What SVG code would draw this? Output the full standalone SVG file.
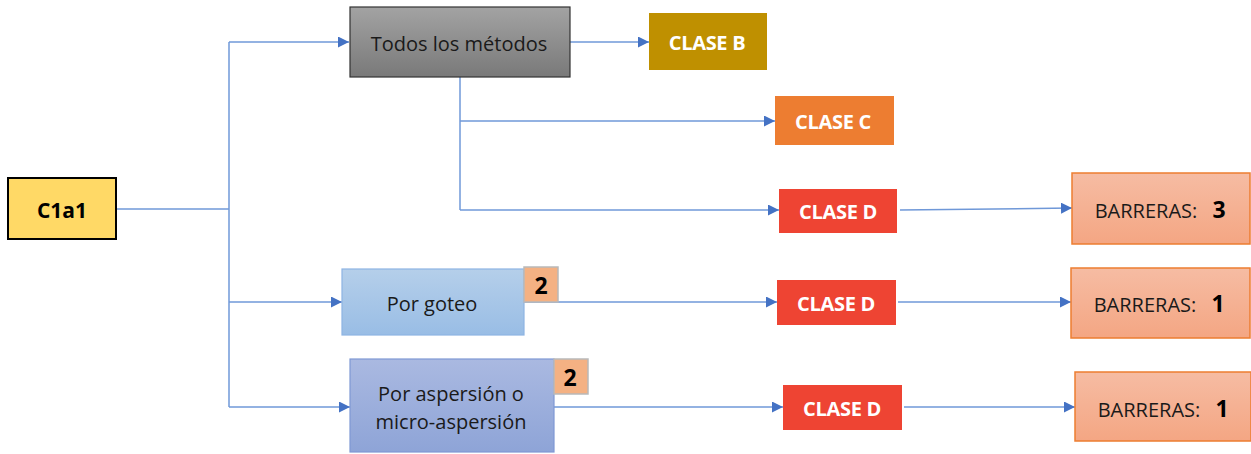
<svg xmlns="http://www.w3.org/2000/svg" width="1251" height="454" viewBox="0 0 1251 454">
<style>
.t{font-family:"Open Sans","Liberation Sans",sans-serif;font-size:20px;fill:#1a1a1a;text-anchor:middle;dominant-baseline:central}
.w{font-family:"Open Sans","Liberation Sans",sans-serif;font-size:20px;font-weight:bold;fill:#fff;text-anchor:middle;dominant-baseline:central;letter-spacing:-0.3px}
.b{font-family:"Open Sans","Liberation Sans",sans-serif;font-size:23px;font-weight:bold;fill:#000;text-anchor:middle;dominant-baseline:central}
.cl{fill:none;stroke:#6f98d8;stroke-width:1.5}
.bar{fill:url(#gB);stroke:#ED7D31;stroke-width:1.5}
.badge{fill:#F4B183;stroke:#b9b9b9;stroke-width:1.5}
</style>
<defs>
<marker id="ar" viewBox="0 0 10 10" refX="10" refY="5" markerWidth="11" markerHeight="11" markerUnits="userSpaceOnUse" orient="auto">
<path d="M0,0 L10,5 L0,10 z" fill="#4472C4"/>
</marker>
<linearGradient id="gG" x1="0" y1="0" x2="0" y2="1"><stop offset="0" stop-color="#a3a3a3"/><stop offset="1" stop-color="#797979"/></linearGradient>
<linearGradient id="gP" x1="0" y1="0" x2="0" y2="1"><stop offset="0" stop-color="#b5cfea"/><stop offset="1" stop-color="#99bde5"/></linearGradient>
<linearGradient id="gA" x1="0" y1="0" x2="0" y2="1"><stop offset="0" stop-color="#aab9e1"/><stop offset="1" stop-color="#8ea4d7"/></linearGradient>
<linearGradient id="gB" x1="0" y1="0" x2="0" y2="1"><stop offset="0" stop-color="#f6bca3"/><stop offset="1" stop-color="#f4a683"/></linearGradient>
</defs>
<g id="connectors">
<path class="cl" d="M116,209 H229"/>
<path class="cl" d="M229,42 V407"/>
<path class="cl" d="M229,42 H349" marker-end="url(#ar)"/>
<path class="cl" d="M229,302 H342" marker-end="url(#ar)"/>
<path class="cl" d="M229,407 H350" marker-end="url(#ar)"/>
<path class="cl" d="M570,42 H649" marker-end="url(#ar)"/>
<path class="cl" d="M460,77 V210"/>
<path class="cl" d="M460,121 H775" marker-end="url(#ar)"/>
<path class="cl" d="M460,210 H779" marker-end="url(#ar)"/>
<path class="cl" d="M900,210 L1072,208" marker-end="url(#ar)"/>
<path class="cl" d="M524,302 H777" marker-end="url(#ar)"/>
<path class="cl" d="M898,302 H1071" marker-end="url(#ar)"/>
<path class="cl" d="M554,407 H783" marker-end="url(#ar)"/>
<path class="cl" d="M904,407 H1075" marker-end="url(#ar)"/>
</g>
<g id="c1a1">
<rect x="8" y="178" width="108" height="61" fill="#FFD966" stroke="#000" stroke-width="2"/>
<text class="b" x="62" y="210" style="font-size:21px">C1a1</text>
</g>
<g id="todos">
<rect x="350" y="7" width="220" height="70" fill="url(#gG)" stroke="#333" stroke-width="1.2"/>
<text class="t" x="459" y="43">Todos los métodos</text>
</g>
<g id="claseB">
<rect x="649" y="13" width="118" height="57" fill="#BF9000"/>
<text class="w" x="707" y="42">CLASE B</text>
</g>
<g id="claseC">
<rect x="775" y="96" width="119" height="49" fill="#ED7D31"/>
<text class="w" x="833" y="121">CLASE C</text>
</g>
<g id="claseD1">
<rect x="779" y="189" width="118" height="44" fill="#EE4433"/>
<text class="w" x="838" y="211">CLASE D</text>
</g>
<g id="barreras1">
<rect class="bar" x="1072" y="173" width="178" height="71"/>
<text class="t" x="1146" y="210">BARRERAS:</text>
<text class="b" x="1219" y="209">3</text>
</g>
<g id="goteo">
<rect x="342" y="269" width="182" height="66" fill="url(#gP)" stroke="#8eb4e3" stroke-width="1.2"/>
<text class="t" x="432" y="303">Por goteo</text>
</g>
<g id="badge1">
<rect class="badge" x="524" y="267" width="34" height="35"/>
<text class="b" x="541" y="285">2</text>
</g>
<g id="claseD2">
<rect x="777" y="280" width="119" height="45" fill="#EE4433"/>
<text class="w" x="836" y="303">CLASE D</text>
</g>
<g id="barreras2">
<rect class="bar" x="1071" y="268" width="179" height="70"/>
<text class="t" x="1145" y="304">BARRERAS:</text>
<text class="b" x="1218" y="303">1</text>
</g>
<g id="aspersion">
<rect x="350" y="359" width="204" height="93" fill="url(#gA)" stroke="#7f98d4" stroke-width="1.2"/>
<text class="t" x="451" y="393">Por aspersión o</text>
<text class="t" x="451" y="421">micro-aspersión</text>
</g>
<g id="badge2">
<rect class="badge" x="554" y="359" width="34" height="35"/>
<text class="b" x="570" y="377">2</text>
</g>
<g id="claseD3">
<rect x="783" y="385" width="119" height="45" fill="#EE4433"/>
<text class="w" x="842" y="408">CLASE D</text>
</g>
<g id="barreras3">
<rect class="bar" x="1075" y="372" width="176" height="69"/>
<text class="t" x="1149" y="409">BARRERAS:</text>
<text class="b" x="1222" y="408">1</text>
</g>
</svg>
